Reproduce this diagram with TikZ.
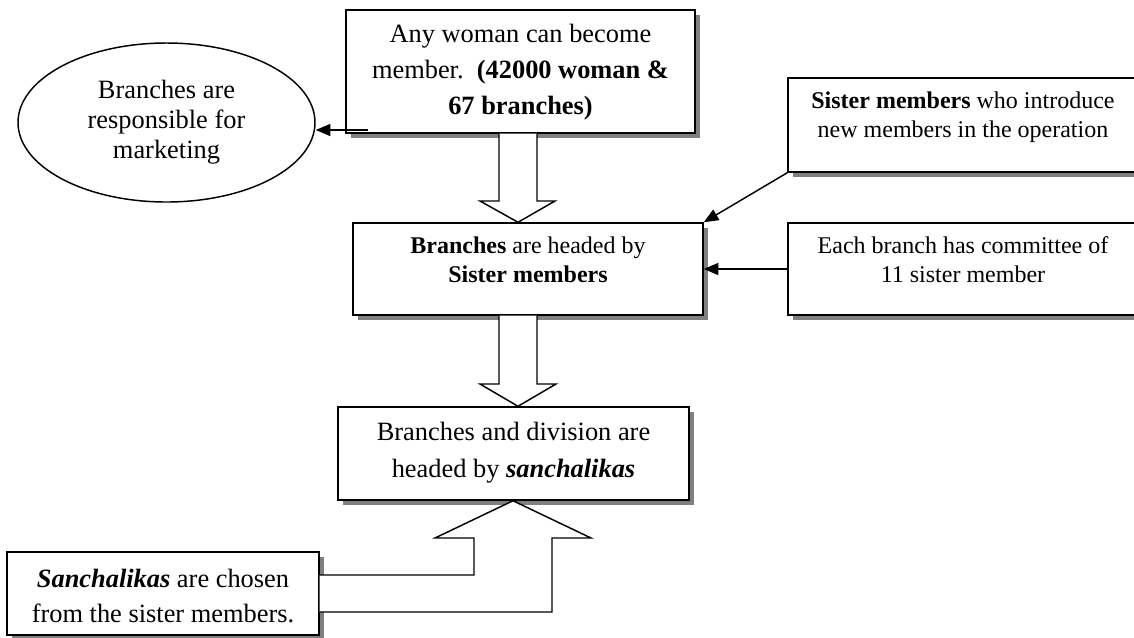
\documentclass[tikz,border=0pt]{standalone}
\usepackage{fontspec}
\setmainfont{Liberation Serif}
\usetikzlibrary{shapes.geometric,shadows,arrows.meta}

\newcommand{\boxtext}[2]{\raisebox{#1}[\height][\depth]{\begin{tabular}{@{}c@{}}#2\end{tabular}}}

\tikzset{every picture/.style={line width=1.1pt}}
\tikzset{
  shadowbox/.style={draw, fill=white, inner sep=0pt, drop shadow={shadow xshift=3.75pt, shadow yshift=-3.75pt, fill=gray, opacity=1}},
  bigfont/.style={font=\fontsize{19.8}{#1}\selectfont},
  smallfont/.style={font=\fontsize{18}{21.75}\selectfont},
  bigarrow/.style={draw, fill=white, line join=miter},
  pointer/.style={-{Triangle[length=11pt,width=9pt]}},
}

\begin{document}
\begin{tikzpicture}[x=0.75pt,y=0.75pt,yscale=-1,xscale=1]
\path[use as bounding box] (0,0) rectangle (1134,637);
\clip (0,0) rectangle (1134,637);

%Shape: Ellipse
\node[draw, ellipse, fill=white, inner sep=0pt, minimum width=222.75pt, minimum height=119.25pt, bigfont=22.5] (mark) at (166.5,122.5) {\boxtext{0pt}{Branches are\\ responsible for\\ marketing}};
% Text Node
\node[shadowbox, minimum width=261.75pt, minimum height=92.25pt, bigfont=27] (join) at (520.5,71.5) {\boxtext{0pt}{Any woman can become\\ member.\ \ \textbf{(42000 woman \&}\\ \textbf{67 branches)}}};
% Text Node
\node[shadowbox, minimum width=262.5pt, minimum height=69pt, smallfont] (headed) at (528,269) {\boxtext{4.9pt}{\textbf{Branches} are headed by\\ \textbf{Sister members}}};
% Text Node
\node[shadowbox, minimum width=262.5pt, minimum height=70.5pt, smallfont] (introduce) at (963,125) {\boxtext{5.6pt}{\textbf{Sister members} who introduce\\ new members in the operation}};
% Text Node
\node[shadowbox, minimum width=262.5pt, minimum height=69pt, smallfont] (committee) at (963,269) {\boxtext{5.2pt}{Each branch has committee of\\ 11 sister member}};
% Text Node
\node[shadowbox, minimum width=263.25pt, minimum height=69.75pt, bigfont=27.75] (sanch) at (513.5,453.5) {\boxtext{1.5pt}{Branches and division are\\ headed by \textbf{\textit{sanchalikas}}}};
% Text Node
\node[shadowbox, minimum width=234pt, minimum height=62.25pt, bigfont=26.25] (chosen) at (163,593.5) {\boxtext{-3pt}{\textbf{\textit{Sanchalikas}} are chosen\\ from the sister members.}};

%Shape: Down Arrow
\draw[bigarrow] (499,0 |- join.south) -- (499,201) -- (480,201) -- (518,0 |- headed.north) -- (555,201) -- (537,201) -- (537,0 |- join.south);
%Shape: Down Arrow
\draw[bigarrow] (499,0 |- headed.south) -- (499,384) -- (480,384) -- (518,0 |- sanch.north) -- (556,384) -- (537,384) -- (537,0 |- headed.south);
%Shape: Up Arrow
\draw[bigarrow] (chosen.east |- 0,575) -- (474,575) -- (474,538) -- (435,538) -- (513,0 |- sanch.south) -- (591,538) -- (552,538) -- (552,612) -- (chosen.east |- 0,612);

\coordinate (tail) at (368,130);
\draw[pointer] (tail) -- (mark.east |- tail);
\draw[pointer] (introduce.south west) -- (headed.north east);
\draw[pointer] (committee.west) -- (headed.east);
\end{tikzpicture}
\end{document}
